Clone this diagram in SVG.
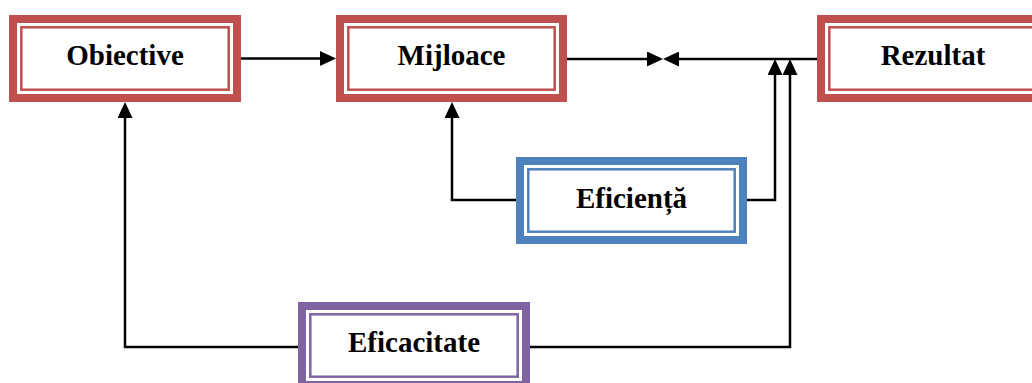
<svg xmlns="http://www.w3.org/2000/svg" width="1032" height="383" viewBox="0 0 1032 383">
  <style>
    .band { fill: #ffffff; stroke-width: 8; }
    .rule { fill: none; stroke-width: 2.5; }
    .red { stroke: #C0504D; }
    .blue { stroke: #4F81BD; }
    .purple { stroke: #8064A2; }
    .label { font-family: "Liberation Serif", "Times New Roman", serif; font-weight: bold; font-size: 29px; fill: #000000; text-anchor: middle; }
    .wire { fill: none; stroke: #000000; stroke-width: 2.5; }
  </style>
  <defs>
    <marker id="head" markerUnits="userSpaceOnUse" markerWidth="16" markerHeight="15" refX="10" refY="7.5" orient="auto" viewBox="0 0 16 15">
      <path d="M0,0 L16,7.5 L0,15 Z" fill="#000000"/>
    </marker>
  </defs>

  <!-- connectors -->
  <g id="connectors">
    <path class="wire" d="M241,58.5 H330" marker-end="url(#head)"/>
    <path class="wire" d="M567,59 H657" marker-end="url(#head)"/>
    <path class="wire" d="M817,59 H669" marker-end="url(#head)"/>
    <path class="wire" d="M747,200 H775 V65" marker-end="url(#head)"/>
    <path class="wire" d="M516,200 H452 V108" marker-end="url(#head)"/>
    <path class="wire" d="M298,347 H125 V108" marker-end="url(#head)"/>
    <path class="wire" d="M530,347 H790 V65" marker-end="url(#head)"/>
  </g>

  <!-- nodes -->
  <g id="obiective">
    <rect class="band red" x="13" y="19" width="224" height="79"/>
    <rect class="rule red" x="21.3" y="27.3" width="207.4" height="62.4"/>
    <text class="label" x="125" y="65">Obiective</text>
  </g>

  <g id="mijloace">
    <rect class="band red" x="340" y="19" width="223" height="79"/>
    <rect class="rule red" x="348.3" y="27.3" width="206.4" height="62.4"/>
    <text class="label" x="451.5" y="65">Mijloace</text>
  </g>

  <g id="rezultat">
    <rect class="band red" x="821" y="19" width="224" height="79"/>
    <rect class="rule red" x="829.3" y="27.3" width="207.4" height="62.4"/>
    <text class="label" x="933" y="65">Rezultat</text>
  </g>

  <g id="eficienta">
    <rect class="band blue" x="520" y="161" width="223" height="79"/>
    <rect class="rule blue" x="528.3" y="169.3" width="206.4" height="62.4"/>
    <text class="label" x="631.5" y="208">Eficiență</text>
  </g>

  <g id="eficacitate">
    <rect class="band purple" x="302" y="306" width="224" height="79"/>
    <rect class="rule purple" x="310.3" y="314.3" width="207.4" height="62.4"/>
    <text class="label" x="414" y="352">Eficacitate</text>
  </g>
</svg>
